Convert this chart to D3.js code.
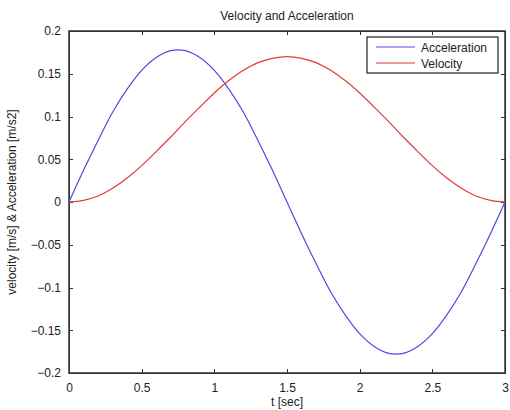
<!DOCTYPE html>
<html lang="en">
	<head>
		<meta charset="utf-8">
		<title>Velocity and Acceleration</title>
		<script type="text/javascript" src="https://cdn.jsdelivr.net/npm/d3@7"></script>
		<style type="text/css">
			body { margin: 0; background: white; }
			text { font-family: "Liberation Sans", Arial, sans-serif; fill: #222; }
			.axis path, .axis line { stroke: #333; shape-rendering: crispEdges; }
		</style>
	</head>
	<body>
		<script type="text/javascript">

			// time samples [sec]
			var tValues = [0, 0.1, 0.2, 0.3, 0.4, 0.5, 0.6, 0.7, 0.8, 0.9, 1.0,
				1.1, 1.2, 1.3, 1.4, 1.5, 1.6, 1.7, 1.8, 1.9, 2.0,
				2.1, 2.2, 2.3, 2.4, 2.5, 2.6, 2.7, 2.8, 2.9, 3.0];

			// acceleration [m/s2]
			var acceleration = [0, 0.037, 0.072, 0.105, 0.132, 0.154, 0.169, 0.177, 0.177, 0.169, 0.154,
				0.132, 0.105, 0.072, 0.037, 0, -0.037, -0.072, -0.105, -0.132, -0.154,
				-0.169, -0.177, -0.177, -0.169, -0.154, -0.132, -0.105, -0.072, -0.037, 0];

			// velocity [m/s]
			var velocity = [0, 0.002, 0.007, 0.016, 0.028, 0.0425, 0.059, 0.076, 0.094, 0.111, 0.1275,
				0.142, 0.154, 0.163, 0.168, 0.170, 0.168, 0.163, 0.154, 0.142, 0.1275,
				0.111, 0.094, 0.076, 0.059, 0.0425, 0.028, 0.016, 0.007, 0.002, 0];

			var xTicks = [0, 0.5, 1, 1.5, 2, 2.5, 3];
			var yTicks = [-0.2, -0.15, -0.1, -0.05, 0, 0.05, 0.1, 0.15, 0.2];

			var w = 510;
			var h = 410;
			var plotLeft = 69, plotRight = 505, plotTop = 31, plotBottom = 373;

			var svg = d3.select("body").append("svg")
				.attr("width", w)
				.attr("height", h);

			var xScale = d3.scaleLinear().domain([0, 3]).range([plotLeft, plotRight]);
			var yScale = d3.scaleLinear().domain([-0.2, 0.2]).range([plotBottom, plotTop]);

			var fmt = function(d) { return d < 0 ? "\u2212" + d3.format("")(-d) : d3.format("")(d); };

			// axes with inward ticks (all four sides, like matlab)
			svg.append("g").attr("class", "axis")
				.attr("transform", "translate(0," + plotBottom + ")")
				.call(d3.axisBottom(xScale).tickValues(xTicks).tickSizeInner(-4).tickSizeOuter(0).tickPadding(10).tickFormat(fmt));
			svg.append("g").attr("class", "axis")
				.attr("transform", "translate(0," + plotTop + ")")
				.call(d3.axisTop(xScale).tickValues(xTicks).tickSizeInner(-4).tickSizeOuter(0).tickFormat(""));
			svg.append("g").attr("class", "axis")
				.attr("transform", "translate(" + plotLeft + ",0)")
				.call(d3.axisLeft(yScale).tickValues(yTicks).tickSizeInner(-4).tickSizeOuter(0).tickPadding(8).tickFormat(fmt));
			svg.append("g").attr("class", "axis")
				.attr("transform", "translate(" + plotRight + ",0)")
				.call(d3.axisRight(yScale).tickValues(yTicks).tickSizeInner(-4).tickSizeOuter(0).tickFormat(""));

			svg.selectAll(".axis text")
				.attr("font-size", "12px")
				.style("font-family", "'Liberation Sans', Arial, sans-serif")
				.attr("fill", "#222");

			// frame
			svg.append("rect")
				.attr("x", plotLeft).attr("y", plotTop)
				.attr("width", plotRight - plotLeft).attr("height", plotBottom - plotTop)
				.attr("fill", "none").attr("stroke", "#333").attr("stroke-width", 1.5);

			var line = d3.line()
				.x(function(d, i) { return xScale(tValues[i]); })
				.y(function(d) { return yScale(d); })
				.curve(d3.curveCatmullRom);

			svg.append("path")
				.datum(acceleration)
				.attr("d", line)
				.attr("fill", "none")
				.attr("stroke", "#4a4ae8")
				.attr("stroke-width", 1.2);

			svg.append("path")
				.datum(velocity)
				.attr("d", line)
				.attr("fill", "none")
				.attr("stroke", "#e03a3a")
				.attr("stroke-width", 1.2);

			// title and labels
			svg.append("text")
				.attr("x", (plotLeft + plotRight) / 2).attr("y", 20)
				.attr("text-anchor", "middle").attr("font-size", "12px")
				.text("Velocity and Acceleration");

			svg.append("text")
				.attr("x", (plotLeft + plotRight) / 2).attr("y", 406)
				.attr("text-anchor", "middle").attr("font-size", "12px")
				.text("t [sec]");

			svg.append("text")
				.attr("transform", "translate(16," + (plotTop + plotBottom) / 2 + ") rotate(-90)")
				.attr("text-anchor", "middle").attr("font-size", "12px")
				.text("velocity [m/s] & Acceleration [m/s2]");

			// legend
			var legend = svg.append("g");
			legend.append("rect")
				.attr("x", 367).attr("y", 37)
				.attr("width", 131).attr("height", 36)
				.attr("fill", "white").attr("stroke", "#222").attr("stroke-width", 1.2);

			var legendItems = [["Acceleration", "#4a4ae8"], ["Velocity", "#e03a3a"]];
			legendItems.forEach(function(item, i) {
				var y = 47 + i * 16;
				legend.append("line")
					.attr("x1", 376).attr("x2", 415)
					.attr("y1", y).attr("y2", y)
					.attr("stroke", item[1]).attr("stroke-width", 1.2);
				legend.append("text")
					.attr("x", 421).attr("y", y + 4.5)
					.attr("font-size", "12px")
					.text(item[0]);
			});

		</script>
	</body>
</html>
